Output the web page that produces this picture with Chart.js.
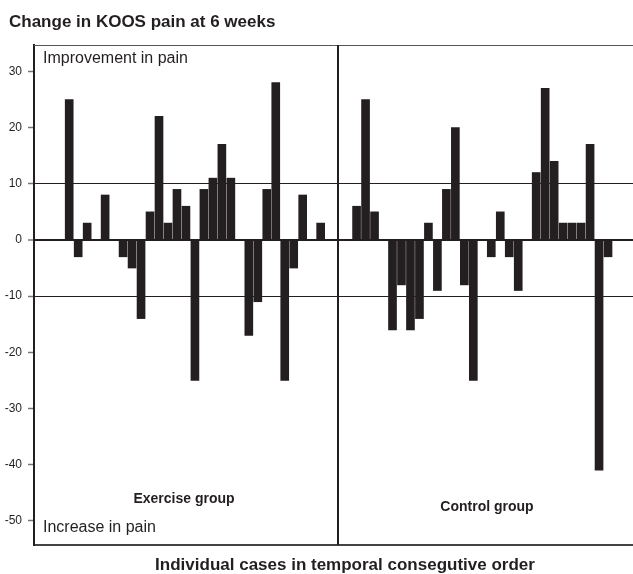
<!DOCTYPE html>
<html>
<head>
<meta charset="utf-8">
<script src="https://cdn.jsdelivr.net/npm/chart.js@4"></script>
<style>
    html, body { margin: 0; padding: 0; background: #fff; }
    #koosChart { display: block; }
</style>
</head>
<body>
<canvas id="koosChart" width="633" height="574"></canvas>
<script>
// Change in KOOS pain per case, in the order the cases were seen (0 = no change)
const exerciseChange = [25, -3, 3, 0, 8, 0, -3, -5, -14, 5, 22, 3, 9, 6, -25, 9, 11, 17, 11, 0, -17, -11, 9, 28, -25, -5, 8, 0, 3];
const controlChange = [6, 25, 5, 0, -16, -8, -16, -14, 3, -9, 9, 20, -8, -25, 0, -3, 5, -3, -9, 0, 12, 27, 14, 3, 3, 3, 17, -41, -3];
const yTicks = [30, 20, 10, 0, -10, -20, -30, -40, -50];
const gridValues = [10, 0, -10];
const groupLabels = ['Exercise group', 'Control group'];

const FONT = '"Liberation Sans", Arial, Helvetica, sans-serif';
const INK = '#231f20';

// empty case slots between the two groups
const groupGap = 3;
const controlStart = exerciseChange.length + groupGap;

function toPoints(values, start) {
    return values.map(function(v, i) {
        return { x: start + i, y: v };
    });
}

// Frame, group divider and the text inside/around the plot
const framePlugin = {
    id: 'frame',
    afterDraw: function(chart) {
        const ctx = chart.ctx;
        const area = chart.chartArea;
        const x = chart.scales.x;
        const divider = Math.round(x.getPixelForValue(exerciseChange.length + 0.88));

        ctx.save();
        ctx.strokeStyle = '#555';
        ctx.lineWidth = 1;
        ctx.beginPath();
        ctx.moveTo(area.left, area.top + 0.5);
        ctx.lineTo(area.right, area.top + 0.5);
        ctx.stroke();

        ctx.strokeStyle = INK;
        ctx.lineWidth = 2;
        ctx.beginPath();
        ctx.moveTo(divider, area.top);
        ctx.lineTo(divider, area.bottom);
        ctx.stroke();

        ctx.fillStyle = INK;
        ctx.textBaseline = 'alphabetic';

        ctx.textAlign = 'left';
        ctx.font = 'bold 17px ' + FONT;
        ctx.fillText('Change in KOOS pain at 6 weeks', 9, 27);

        ctx.font = '16px ' + FONT;
        ctx.fillText('Improvement in pain', area.left + 9, area.top + 18);
        ctx.fillText('Increase in pain', area.left + 9, area.bottom - 13);

        ctx.textAlign = 'center';
        ctx.font = 'bold 14px ' + FONT;
        ctx.fillText(groupLabels[0], area.left + 150, area.bottom - 42);
        ctx.fillText(groupLabels[1], area.left + 453, area.bottom - 34);

        ctx.font = 'bold 17px ' + FONT;
        ctx.fillText('Individual cases in temporal consegutive order', area.left + 311, chart.height - 4);
        ctx.restore();
    }
};

new Chart(document.getElementById('koosChart'), {
    type: 'bar',
    data: {
        datasets: [{
            label: groupLabels[0],
            data: toPoints(exerciseChange, 0),
            backgroundColor: INK,
            borderWidth: 0,
            barThickness: 8,
            grouped: false
        }, {
            label: groupLabels[1],
            data: toPoints(controlChange, controlStart),
            backgroundColor: INK,
            borderWidth: 0,
            barThickness: 8,
            grouped: false
        }]
    },
    options: {
        responsive: false,
        animation: false,
        layout: {
            padding: { top: 45, right: 0, left: 0, bottom: 0 }
        },
        plugins: {
            legend: { display: false },
            tooltip: { enabled: false }
        },
        scales: {
            x: {
                type: 'linear',
                offset: false,
                min: -3.92,
                max: 62.78,
                ticks: { display: false },
                grid: { display: false, drawTicks: false },
                border: { display: true, color: '#444', width: 2 },
                afterFit: function(scale) {
                    scale.height = 29;
                }
            },
            y: {
                min: -54.3,
                max: 34.7,
                afterBuildTicks: function(scale) {
                    scale.ticks = yTicks.map(function(v) {
                        return { value: v };
                    });
                },
                afterFit: function(scale) {
                    scale.width = 34;
                },
                ticks: {
                    color: INK,
                    padding: 6,
                    font: { family: FONT, size: 12 }
                },
                grid: {
                    color: function(c) {
                        return gridValues.includes(c.tick.value) ? INK : 'rgba(0,0,0,0)';
                    },
                    lineWidth: function(c) {
                        return c.tick.value === 0 ? 2 : 1;
                    },
                    tickColor: '#777',
                    tickLength: 6,
                    tickWidth: 1.5
                },
                border: { display: true, color: INK, width: 2 }
            }
        }
    },
    plugins: [framePlugin]
});
</script>
</body>
</html>
